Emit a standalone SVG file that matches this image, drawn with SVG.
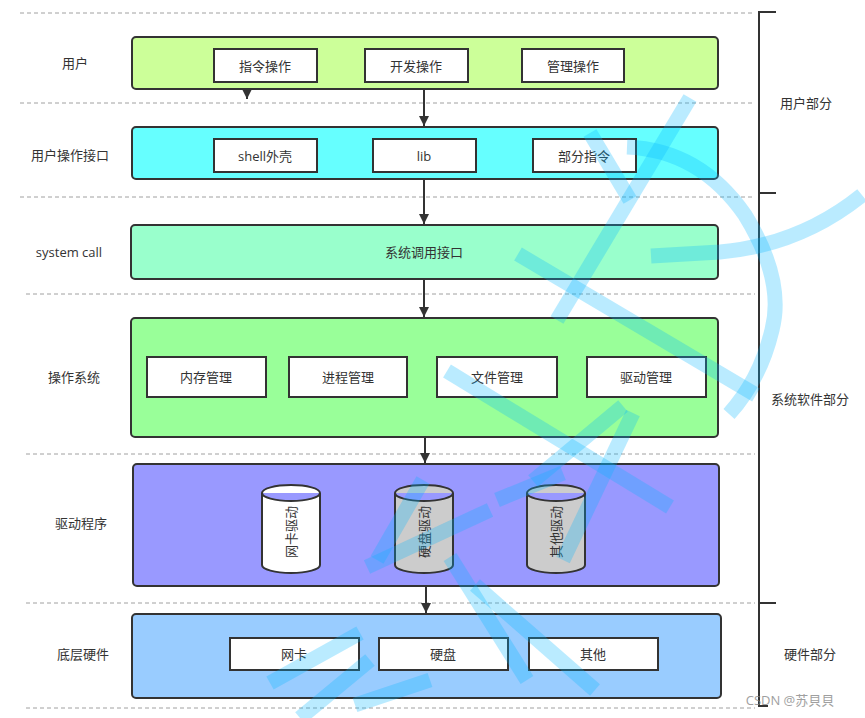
<svg xmlns="http://www.w3.org/2000/svg" width="865" height="718" viewBox="0 0 865 718">
<defs>
<style>
.dash{stroke:#a0a0a0;stroke-width:1;stroke-dasharray:4 3;fill:none}
.layer{stroke:#333;stroke-width:2}
.inner{fill:#fff;stroke:#333;stroke-width:2}
.t{font-family:"Open Sans","Noto Sans CJK SC",sans-serif;font-size:13px;fill:#333;text-anchor:middle;dominant-baseline:central}
.conn{stroke:#333;stroke-width:2;fill:none}
.cyl{stroke:#333;stroke-width:2}
.wm{fill:none;stroke:rgb(0,180,255);stroke-opacity:0.27;stroke-width:15;stroke-linecap:butt}
</style>
<marker id="ah" viewBox="0 0 10 10" refX="10" refY="5" markerWidth="5" markerHeight="6" orient="auto" markerUnits="strokeWidth">
<path d="M0,0 L10,5 L0,10 z" fill="#333"/>
</marker>
</defs>
<rect width="865" height="718" fill="#fff"/>
<g id="lanes">
<line class="dash" x1="20" y1="13" x2="755" y2="13"/>
<line class="dash" x1="20" y1="103" x2="755" y2="103"/>
<line class="dash" x1="20" y1="197" x2="755" y2="197"/>
<line class="dash" x1="26" y1="294" x2="755" y2="294"/>
<line class="dash" x1="26" y1="454" x2="755" y2="454"/>
<line class="dash" x1="26" y1="603" x2="755" y2="603"/>
<line class="dash" x1="26" y1="708" x2="755" y2="708"/>
</g>
<g id="lane-labels">
<text class="t" x="75" y="63">用户</text>
<text class="t" x="70" y="155">用户操作接口</text>
<text class="t" x="69" y="252">system call</text>
<text class="t" x="74" y="377">操作系统</text>
<text class="t" x="81" y="523">驱动程序</text>
<text class="t" x="83" y="654">底层硬件</text>
</g>
<g id="bracket">
<path d="M776,12 H759 V706 H768 M759,193 H776 M759,603 H776" stroke="#333" stroke-width="2" fill="none"/>
<text class="t" x="806" y="103">用户部分</text>
<text class="t" x="810" y="399">系统软件部分</text>
<text class="t" x="810" y="654">硬件部分</text>
</g>
<g id="user">
<rect class="layer" x="132" y="37" width="586" height="52" rx="4" fill="#ccff99"/>
<rect class="inner" x="214" y="49" width="103" height="33"/><text class="t" x="265" y="66">指令操作</text>
<rect class="inner" x="365" y="49" width="103" height="33"/><text class="t" x="416" y="66">开发操作</text>
<rect class="inner" x="522" y="49" width="102" height="33"/><text class="t" x="573" y="66">管理操作</text>
</g>
<g id="user-interface">
<rect class="layer" x="132" y="127" width="586" height="52" rx="4" fill="#66ffff"/>
<rect class="inner" x="214" y="139" width="103" height="33"/><text class="t" x="265" y="156">shell外壳</text>
<rect class="inner" x="373" y="139" width="103" height="33"/><text class="t" x="424" y="156">lib</text>
<rect class="inner" x="533" y="139" width="103" height="33"/><text class="t" x="584" y="156">部分指令</text>
</g>
<g id="syscall">
<rect class="layer" x="131" y="225" width="587" height="54" rx="4" fill="#99ffcc"/>
<text class="t" x="424" y="252">系统调用接口</text>
</g>
<g id="os">
<rect class="layer" x="131" y="318" width="587" height="119" rx="4" fill="#99ff99"/>
<rect class="inner" x="147" y="357" width="119" height="40"/><text class="t" x="206" y="377">内存管理</text>
<rect class="inner" x="289" y="357" width="118" height="40"/><text class="t" x="348" y="377">进程管理</text>
<rect class="inner" x="437" y="357" width="120" height="40"/><text class="t" x="497" y="377">文件管理</text>
<rect class="inner" x="587" y="357" width="119" height="40"/><text class="t" x="646" y="377">驱动管理</text>
</g>
<g id="drivers">
<rect class="layer" x="133" y="464" width="586" height="122" rx="4" fill="#9999ff"/>
<g id="nic-driver">
<path class="cyl" fill="#fff" d="M262,493 a29,8 0 0 1 58,0 v72 a29,8 0 0 1 -58,0 z M262,493 a29,8 0 0 0 58,0"/>
<text class="t" font-size="12" transform="translate(291,532) rotate(-90)">网卡驱动</text>
</g>
<g id="disk-driver">
<path class="cyl" fill="#cccccc" d="M395,493 a29,8 0 0 1 58,0 v72 a29,8 0 0 1 -58,0 z M395,493 a29,8 0 0 0 58,0"/>
<text class="t" font-size="12" transform="translate(424,532) rotate(-90)">硬盘驱动</text>
</g>
<g id="other-driver">
<path class="cyl" fill="#cccccc" d="M527,493 a29,8 0 0 1 58,0 v72 a29,8 0 0 1 -58,0 z M527,493 a29,8 0 0 0 58,0"/>
<text class="t" font-size="12" transform="translate(556,532) rotate(-90)">其他驱动</text>
</g>
</g>
<g id="hardware">
<rect class="layer" x="132" y="614" width="589" height="84" rx="4" fill="#99ccff"/>
<rect class="inner" x="230" y="638" width="129" height="32"/><text class="t" x="294" y="654">网卡</text>
<rect class="inner" x="379" y="638" width="129" height="32"/><text class="t" x="443" y="654">硬盘</text>
<rect class="inner" x="529" y="638" width="129" height="32"/><text class="t" x="593" y="654">其他</text>
</g>
<g id="connectors">
<line class="conn" x1="424" y1="89" x2="424" y2="126" marker-end="url(#ah)"/>
<line class="conn" x1="424" y1="179" x2="424" y2="224" marker-end="url(#ah)"/>
<line class="conn" x1="424" y1="279" x2="424" y2="317" marker-end="url(#ah)"/>
<line class="conn" x1="425" y1="437" x2="425" y2="463" marker-end="url(#ah)"/>
<line class="conn" x1="426" y1="586" x2="426" y2="613" marker-end="url(#ah)"/>
<line class="conn" x1="247" y1="90" x2="247" y2="99" marker-end="url(#ah)"/>
</g>
<g id="watermark">
<path class="wm" d="M690,98 L557,320"/>
<path class="wm" d="M627,147 Q700,150 745,215 Q785,280 772,330 Q760,380 729,414"/>
<path class="wm" d="M862,195 Q800,245 720,252 L651,256"/>
<path class="wm" d="M518,254 L756,395"/>
<path class="wm" d="M590,133 L630,200"/>
<path class="wm" d="M447,371 L670,507"/>
<path class="wm" d="M623,406 L533,481"/>
<path class="wm" d="M633,413 L563,560"/>
<path class="wm" d="M497,500 L563,473"/>
<path class="wm" d="M367,567 L490,510"/>
<path class="wm" d="M423,480 L377,560"/>
<path class="wm" d="M450,557 L527,680"/>
<path class="wm" d="M475,585 L595,690"/>
<path class="wm" d="M270,683 L360,633"/>
<path class="wm" d="M300,718 L370,660"/>
<path class="wm" d="M355,705 L430,680"/>
</g>
<text x="790" y="700" font-family="Open Sans,'Noto Sans CJK SC',sans-serif" font-size="13" fill="#888" text-anchor="middle" dominant-baseline="central" opacity="0.8">CSDN @苏貝貝</text>
</svg>
